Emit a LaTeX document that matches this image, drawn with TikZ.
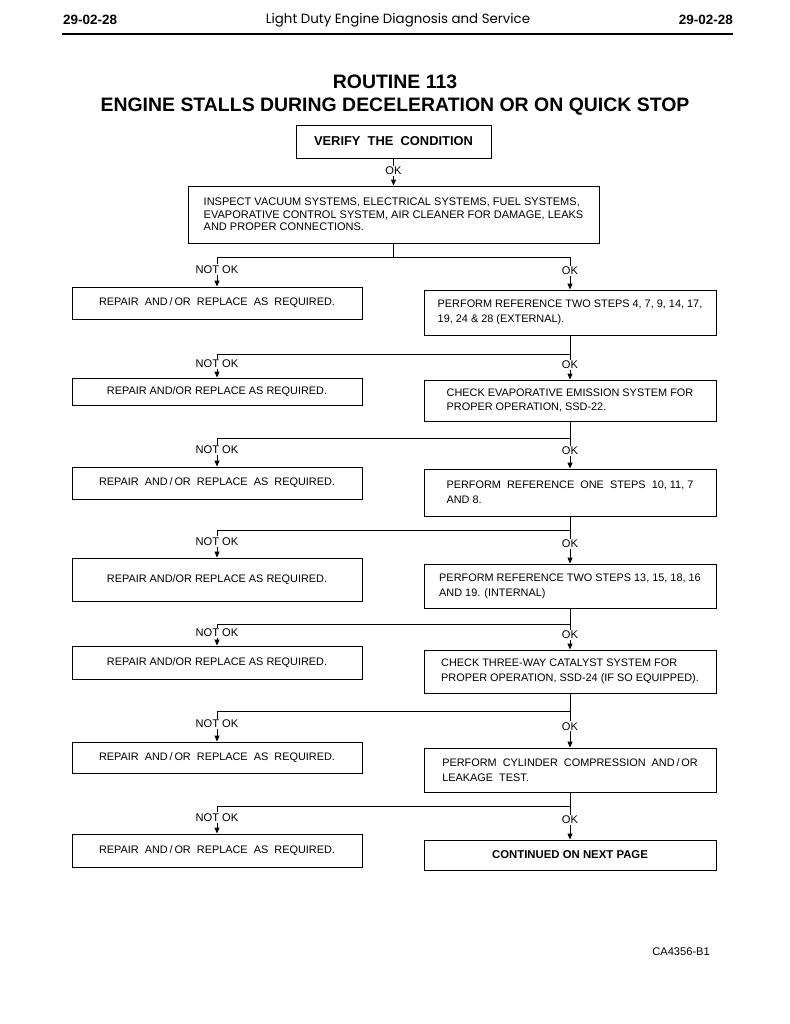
\documentclass[tikz,border=0pt]{standalone}
\usepackage{fontspec}
\setmainfont{Liberation Sans}
\newfontfamily\headfont{Poppins}
\usetikzlibrary{arrows.meta}

\newcommand\repsp{REPAIR\ \ AND\,/\,OR\ \ REPLACE\ \ AS\ \ REQUIRED.}
\newcommand\repnb{REPAIR AND/OR REPLACE AS REQUIRED.}

\begin{document}
\begin{tikzpicture}[x=0.3mm, y=-0.3mm,
    thin box/.style={draw, line width=0.8pt, inner sep=2pt, font=\fontsize{9.3}{12.5}\selectfont},
    lbox/.style={thin box, minimum width=87mm, align=center},
    rbox/.style={thin box, minimum width=87.6mm, align=left},
    okl/.style={fill=white, inner sep=1pt, pos=0.42, font=\fontsize{9.5}{10}\selectfont},
    arr/.style={line width=0.8pt, -{Triangle[length=1.8mm,width=1.5mm]}},
    wire/.style={line width=0.8pt}]
    % Page frame
    \useasboundingbox (0,0) rectangle (789,1024);
    \fill[white] (0,0) rectangle (789,1024);

    % Page header
    \node[anchor=west, font=\bfseries\fontsize{11.5}{12}\selectfont] (pgleft) at (59,20) {29-02-28};
    \node[font=\headfont\fontsize{11.4}{12}\selectfont] (pghead) at (398,20) {Light Duty Engine Diagnosis and Service};
    \node[anchor=east, font=\bfseries\fontsize{11.5}{12}\selectfont] (pgright) at (737,20) {29-02-28};
    \draw[line width=1.3pt] (62,34) -- (733,34);

    % Routine title
    \node[font=\bfseries\fontsize{16.6}{18}\selectfont] (routine) at (395,82) {ROUTINE 113};
    \node[font=\bfseries\fontsize{16.6}{18}\selectfont] (symptom) at (395,107) {ENGINE STALLS DURING DECELERATION OR ON QUICK STOP};

    % Top of the chart
    \node[thin box, minimum width=58.5mm, minimum height=9.9mm, font=\bfseries\fontsize{11}{12}\selectfont] (verify) at (393.5,141.5) {VERIFY\ \ THE\ \ CONDITION};
    \node[thin box, minimum width=123.3mm, minimum height=17.1mm, align=left, font=\fontsize{9.4}{10.5}\selectfont] (inspect) at (393.5,214.5)
        {INSPECT VACUUM SYSTEMS, ELECTRICAL SYSTEMS, FUEL SYSTEMS,\\
         EVAPORATIVE CONTROL SYSTEM, AIR CLEANER FOR DAMAGE, LEAKS\\
         AND PROPER CONNECTIONS.};
    \draw[arr] (verify) -- node[okl, pos=0.45]{OK} (inspect);

    % Repair boxes on the left
    \foreach \i/\y/\h/\t in {1/303/9.6/\repsp, 2/391.5/8.1/\repnb, 3/483/9.6/\repsp, 4/579.5/12.9/\repnb,
                             5/662.5/9.9/\repnb, 6/757.5/9.3/\repsp, 7/850.5/9.9/\repsp}
        \node[lbox, minimum height=\h mm] (L\i) at (217,\y) {\t};

    % Checks on the right
    \node[rbox, minimum height=13.5mm] (R1) at (570,312.5)
        {PERFORM REFERENCE TWO STEPS 4, 7, 9, 14, 17,\\ 19, 24 \& 28 (EXTERNAL).};
    \node[rbox, minimum height=12.3mm] (R2) at (570,400.5)
        {CHECK EVAPORATIVE EMISSION SYSTEM FOR\\ PROPER OPERATION, SSD-22.};
    \node[rbox, minimum height=14.1mm] (R3) at (570,492.5)
        {PERFORM\ \ REFERENCE\ \ ONE\ \ STEPS\ \ 10, 11, 7\\ AND 8.};
    \node[rbox, minimum height=13.2mm] (R4) at (570,586)
        {PERFORM REFERENCE TWO STEPS 13, 15, 18, 16\\ AND 19. (INTERNAL)};
    \node[rbox, minimum height=12.9mm] (R5) at (570,671.5)
        {CHECK THREE-WAY CATALYST SYSTEM FOR\\ PROPER OPERATION, SSD-24 (IF SO EQUIPPED).};
    \node[rbox, minimum height=13.2mm] (R6) at (570,770)
        {PERFORM\ \ CYLINDER\ \ COMPRESSION\ \ AND\,/\,OR\\ LEAKAGE\ \ TEST.};
    \node[rbox, minimum height=9mm, align=center, font=\bfseries\fontsize{9.7}{11}\selectfont] (R7) at (570,855)
        {CONTINUED ON NEXT PAGE};

    % Branch points
    \foreach \i/\y in {1/257, 2/354, 3/438, 4/530, 5/624, 6/711, 7/806} {
        \coordinate (jL\i) at (217,\y);
        \coordinate (jR\i) at (570,\y);
    }

    % Connectors
    \draw[wire] (inspect.south) -- (inspect.south |- jR1);
    \draw[wire] (jL1) -- (jR1);
    \foreach \p/\i in {R1/2, R2/3, R3/4, R4/5, R5/6, R6/7}
        \draw[wire] (\p.south) -- (jR\i) -- (jL\i);
    \foreach \i in {1,...,7} {
        \draw[arr] (jL\i) -- node[okl]{NOT OK} (L\i.north);
        \draw[arr] (jR\i) -- node[okl]{OK} (R\i.north);
    }

    % Figure number
    \node[anchor=east, font=\fontsize{9.5}{10}\selectfont] (fignum) at (714,952) {CA4356-B1};
\end{tikzpicture}
\end{document}
